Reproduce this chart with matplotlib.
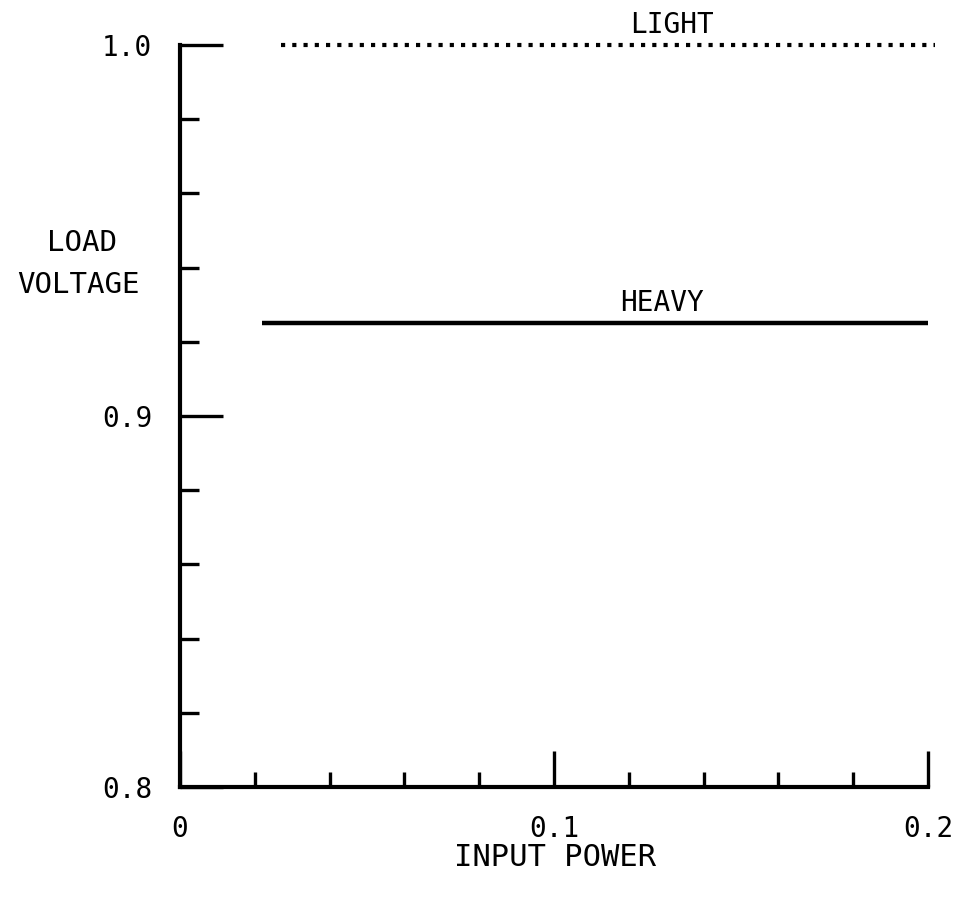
import numpy as np
import matplotlib
matplotlib.use("Agg")
import matplotlib.pyplot as plt
from matplotlib.ticker import MultipleLocator, FixedFormatter, FixedLocator

# curves
light_x = [0.027, 0.202]
light_v = [1.0, 1.0]
heavy_x = [0.022, 0.2]
heavy_v = [0.925, 0.925]

x_ticks = [0.0, 0.1, 0.2]
x_ticklabels = ["0", "0.1", "0.2"]
y_ticks = [0.8, 0.9, 1.0]
y_ticklabels = ["0.8", "0.9", "1.0"]

plt.rcParams['font.family'] = ['DejaVu Sans Mono', 'DejaVu Sans']

fig = plt.figure(figsize=(9.56, 8.99), dpi=100)
ax = fig.add_axes([180/956, 112/899, (928-180)/956, (787-45)/899])

ax.plot(light_x, light_v, color='black', lw=3, linestyle=(0, (1, 1.7)),
        dash_capstyle='butt', clip_on=False)
ax.plot(heavy_x, heavy_v, color='black', lw=3.2, solid_capstyle='butt', clip_on=False)

ax.text(0.1316, 1.0055, "LIGHT", fontsize=20, ha='center', va='center')
ax.text(0.129, 0.9305, "HEAVY", fontsize=20, ha='center', va='center')

ax.set_xlim(0, 0.2)
ax.set_ylim(0.8, 1.0)
for s in ['top', 'right']:
    ax.spines[s].set_visible(False)
for s in ['left', 'bottom']:
    ax.spines[s].set_linewidth(3)

ax.xaxis.set_major_locator(FixedLocator(x_ticks))
ax.xaxis.set_major_formatter(FixedFormatter(x_ticklabels))
ax.xaxis.set_minor_locator(MultipleLocator(0.02))
ax.yaxis.set_major_locator(FixedLocator(y_ticks))
ax.yaxis.set_major_formatter(FixedFormatter(y_ticklabels))
ax.yaxis.set_minor_locator(MultipleLocator(0.02))

ax.tick_params(axis='both', which='both', direction='in', width=2.4, labelsize=20)
ax.tick_params(axis='x', which='major', length=26, pad=20)
ax.tick_params(axis='x', which='minor', length=11)
ax.tick_params(axis='y', which='major', length=31, pad=20)
ax.tick_params(axis='y', which='minor', length=14)

fig.text(82/956, 1 - 243/899, "LOAD", fontsize=21, ha='center', va='center')
fig.text(78/956, 1 - 285/899, "VOLTAGE", fontsize=21, ha='center', va='center')
fig.text(555/956, 1 - 857/899, "INPUT POWER", fontsize=22, ha='center', va='center')

fig.savefig("out.png", dpi=100, facecolor='white')
